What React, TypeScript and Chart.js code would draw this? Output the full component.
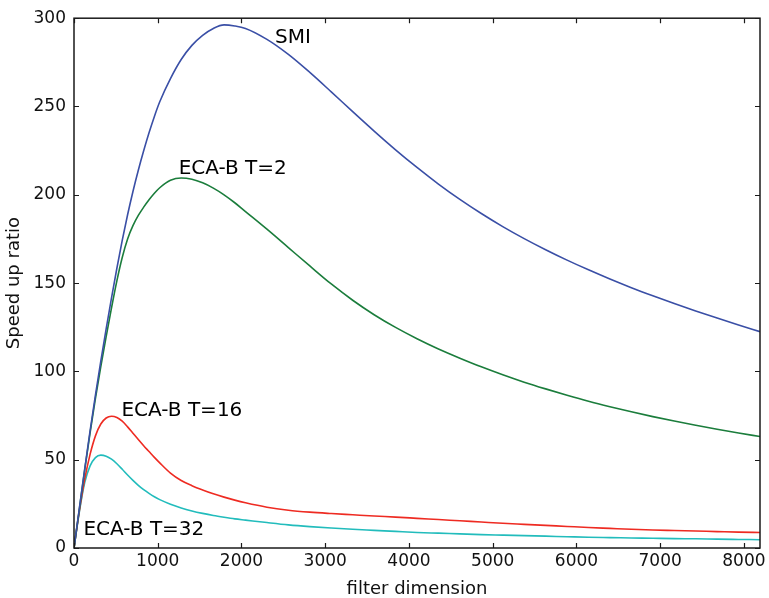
import React, { useEffect, useRef } from "react";
import { Chart, registerables } from "chart.js";
Chart.register(...registerables);

const dims = [
  0, 64, 128, 192, 256, 320, 384, 448, 512, 576, 640, 704, 768, 832, 896, 960, 1024,
  1152, 1280, 1408, 1536, 1664, 1792, 1920, 2048,
  2304, 2560, 2816, 3072, 3328, 3584, 3840, 4096, 4352, 4608, 4864, 5120, 5376, 5632, 5888, 6144,
  6400, 6656, 6912, 7168, 7424, 7680, 7936, 8192,
];
const smi = [
  0, 22.5, 44.8, 66.3, 86.6, 105.8, 124.1, 141.6, 158.4, 174.2, 188.7, 201.9, 213.9, 224.9, 235.1, 244.4, 252.7,
  265.8, 276.6, 284.6, 290.3, 294.2, 296.2, 295.6, 294.2,
  288, 279.5, 269.3, 258.3, 247.1, 236.1, 225.5, 215.5, 206.1, 197.4, 189.4, 182, 175.2, 168.9, 163, 157.5,
  152.3, 147.4, 142.8, 138.4, 134.2, 130.2, 126.3, 122.5,
];
const ecaT2 = [
  0, 22, 44.2, 65.2, 84.7, 102.7, 119.7, 136, 151.3, 164.5, 175, 182.5, 188.3, 193, 197.2, 200.9, 204,
  208.2, 209.5, 208.8, 206.8, 203.8, 200, 195.5, 190.5,
  180.5, 170.1, 159.7, 149.5, 140.3, 132.1, 124.9, 118.5, 112.7, 107.5, 102.6, 98.1, 93.9, 90.1, 86.5, 83.1,
  80, 77.1, 74.4, 71.9, 69.5, 67.2, 65.1, 63.1,
];
const ecaT16 = [
  0, 21, 39, 53, 63.5, 70.2, 73.6, 74.6, 73.9, 71.8, 68.6, 65, 61.4, 57.9, 54.6, 51.3, 48.2,
  42.4, 38.2, 35.3, 32.9, 30.7, 28.8, 27.1, 25.6,
  23.1, 21.4, 20.3, 19.5, 18.8, 18.1, 17.5, 16.8, 16.1, 15.4, 14.7, 14, 13.4, 12.8, 12.2, 11.6,
  11.1, 10.6, 10.2, 9.9, 9.6, 9.3, 9.0, 8.8,
];
const ecaT32 = [
  0, 20.5, 37, 46.5, 51.2, 52.6, 52, 50.3, 47.7, 44.6, 41.3, 38.3, 35.5, 33, 30.9, 29, 27.4,
  24.8, 22.7, 21, 19.6, 18.4, 17.4, 16.5, 15.8,
  14.4, 13.1, 12.1, 11.3, 10.6, 10, 9.4, 8.8, 8.4, 8, 7.6, 7.3, 7, 6.7, 6.4, 6.1,
  5.9, 5.7, 5.5, 5.3, 5.2, 5.0, 4.85, 4.7,
];

const seriesNames = ["SMI", "ECA-B T=2", "ECA-B T=16", "ECA-B T=32"];
const seriesColors = ["#3a4fa6", "#1b7d3c", "#ee2b22", "#22bcbc"];

const labelTexts = ["SMI", "ECA-B T=2", "ECA-B T=16", "ECA-B T=32"];
const labelX = [2400, 1250, 567, 113];
const labelY = [286, 212, 75, 7.5];

const xTicks = [0, 1000, 2000, 3000, 4000, 5000, 6000, 7000, 8000];
const yTicks = [0, 50, 100, 150, 200, 250, 300];

export default function App() {
  const ref = useRef<HTMLCanvasElement>(null);
  useEffect(() => {
    document.body.style.margin = "0";
    const canvas = ref.current!;
    const all = [smi, ecaT2, ecaT16, ecaT32];
    const datasets = all.map((vals, k) => ({
      label: seriesNames[k],
      data: dims.map((d, i) => ({ x: d, y: vals[i] })),
      borderColor: seriesColors[k],
      backgroundColor: seriesColors[k],
      borderWidth: 1.6,
      pointRadius: 0,
      fill: false,
      cubicInterpolationMode: "monotone" as const,
    }));
    const framePlugin = {
      id: "frame",
      afterDraw(chart: any) {
        const { ctx, chartArea } = chart;
        const { left, right, top, bottom } = chartArea;
        const xs = chart.scales.x;
        const ys = chart.scales.y;
        ctx.save();
        ctx.strokeStyle = "#1a1a1a";
        ctx.lineWidth = 1.2;
        ctx.beginPath();
        xTicks.forEach((v) => {
          const px = Math.round(xs.getPixelForValue(v)) + 0.5;
          ctx.moveTo(px, bottom);
          ctx.lineTo(px, bottom - 5);
          ctx.moveTo(px, top);
          ctx.lineTo(px, top + 5);
        });
        yTicks.forEach((v) => {
          const py = Math.round(ys.getPixelForValue(v)) + 0.5;
          ctx.moveTo(left, py);
          ctx.lineTo(left + 5, py);
          ctx.moveTo(right, py);
          ctx.lineTo(right - 5, py);
        });
        ctx.stroke();
        ctx.lineWidth = 1.5;
        ctx.strokeRect(left, top, right - left, bottom - top);
        ctx.fillStyle = "#000";
        ctx.font = "20px 'DejaVu Sans'";
        ctx.textBaseline = "alphabetic";
        ctx.textAlign = "left";
        labelTexts.forEach((t, i) => {
          ctx.fillText(t, xs.getPixelForValue(labelX[i]), ys.getPixelForValue(labelY[i]));
        });
        ctx.restore();
      },
    };
    const chart = new Chart(canvas, {
      type: "line",
      data: { datasets },
      options: {
        animation: false,
        responsive: false,
        devicePixelRatio: 1,
        layout: { padding: { left: 0, top: 16, right: 9, bottom: 0 } },
        plugins: { legend: { display: false }, tooltip: { enabled: false } },
        scales: {
          x: {
            type: "linear",
            min: 0,
            max: 8192,
            grid: { display: false, drawTicks: false },
            border: { display: false },
            afterBuildTicks: (s: any) => {
              s.ticks = xTicks.map((v) => ({ value: v }));
            },
            ticks: {
              maxRotation: 0,
              autoSkip: false,
              padding: 3,
              color: "#111",
              font: { family: "'DejaVu Sans'", size: 17 },
              callback: (v: any) => String(v),
            },
            title: {
              display: true,
              text: "filter dimension",
              color: "#111",
              font: { family: "'DejaVu Sans'", size: 18, lineHeight: 1.0 },
              padding: { top: 0, bottom: 0 },
            },
            afterFit: (s: any) => {
              s.height = 50;
            },
          },
          y: {
            type: "linear",
            min: 0,
            max: 300,
            grid: { display: false, drawTicks: false },
            border: { display: false },
            afterBuildTicks: (s: any) => {
              s.ticks = yTicks.map((v) => ({ value: v }));
            },
            ticks: {
              padding: 8,
              color: "#111",
              font: { family: "'DejaVu Sans'", size: 17 },
              callback: (v: any) => String(v),
            },
            title: {
              display: true,
              text: "Speed up ratio",
              color: "#111",
              font: { family: "'DejaVu Sans'", size: 18 },
              padding: { top: 4, bottom: 0 },
            },
            afterFit: (s: any) => {
              s.width = 74;
            },
          },
        },
      },
      plugins: [framePlugin],
    });
    return () => chart.destroy();
  }, []);
  return (
    <div style={{ width: 769, height: 598 }}>
      <canvas ref={ref} width={769} height={598} style={{ display: "block" }} />
    </div>
  );
}
